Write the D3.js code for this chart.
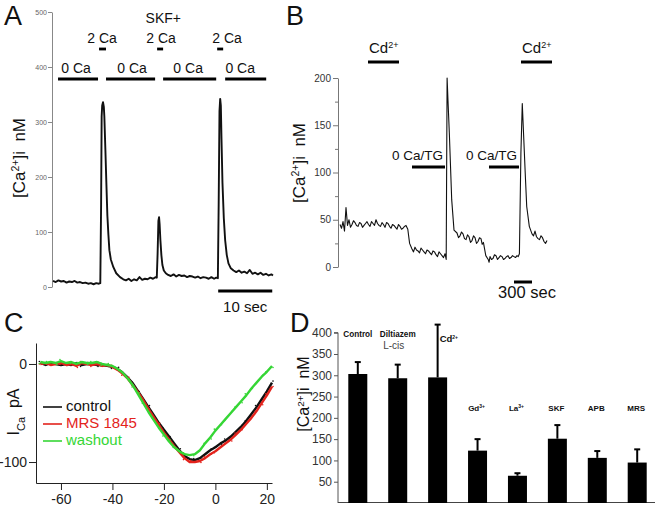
<!DOCTYPE html>
<html><head><meta charset="utf-8">
<script src="https://cdn.jsdelivr.net/npm/d3@7"></script>
<style>body{margin:0;background:#fff} svg{display:block}</style>
</head><body><svg id="c" width="661" height="510"></svg>
<script>
// ---------- DATA ----------
// Panel A: [time s, Ca nM]
const traceA = [[0,11],[0.5,9],[1,12],[1.5,10],[2,11],[2.5,8],[3,10],[3.5,9],[4,11],[4.5,8],[5,9],[5.5,7],[6,8],[6.5,6],[7,7],[7.5,5],[8,7],[8.5,6],
 [8.75,7],[8.9,150],[9.0,310],[9.1,330],[9.25,336],[9.4,328],[9.5,310],[9.69,250],[9.87,190],[10.06,130],[10.25,95],[10.43,67],[10.7,50],[11.17,36],[11.7,25],[12.4,18],[13,14],
 [13.5,12],[14,15],[14.5,11],[15,14],[15.5,12],[16,18],[16.5,13],[17,15],[17.5,14],[18,17],[18.5,15],[19,18],
 [19.2,17],[19.35,60],[19.5,120],[19.62,127],[19.72,115],[19.87,85],[20.05,58],[20.24,40],[20.5,30],[20.87,25],[21.3,22],
 [21.8,20],[22.3,23],[22.8,19],[23.3,22],[23.8,20],[24.3,21],[24.8,18],[25.3,20],[25.8,19],[26.3,17],[26.8,19],[27.3,16],[27.8,18],[28.3,17],[28.8,15],[29.3,18],[29.8,15],[30.2,17],
 [30.5,16],[30.65,150],[30.8,320],[30.93,342],[31.05,330],[31.17,270],[31.35,190],[31.6,125],[31.85,85],[32.15,58],[32.46,43],[32.9,34],[33.4,30],
 [33.9,27],[34.4,30],[34.9,26],[35.4,28],[35.9,25],[36.4,31],[36.9,24],[37.4,26],[37.9,23],[38.4,26],[38.9,22],[39.4,24],[39.9,21],[40.4,23],[40.7,21]];
const aTicks = [0,100,200,300,400,500];
const aZeroCa = [[0.93,8.33],[9.81,18.89],[20.37,30.19],[31.85,39.44]];
const aZeroCaLabelT = [4.26,14.63,25,34.63];
const aTwoCa = [[8.52,9.81],[19.26,20.37],[30.37,31.48]];
const aTwoCaLabelT = [9.07,20,32.2];
const aSkfT = 20.4;
const aScaleBar = [30.56,40.56];

// Panel B: [time s, Ca nM]
const traceB = [[0,45],[25,41],[50,48],[75,38],[100,63],[125,44],[150,50],[175,42],[200,45],[225,49],[250,47],[275,44],[300,43],[325,47],[350,46],[375,42],[400,44],[425,46],[450,48],[475,45],[500,43],[525,48],[550,46],[575,44],[600,50],[625,46],[650,44],[675,43],[700,47],[725,45],[750,42],[775,47],[800,46],[825,43],[850,41],[875,45],[900,44],[925,42],[950,40],[975,45],[1000,43],[1025,40],[1050,41],[1075,43],[1100,44],[1130,40],
 [1160,25],[1200,19],[1225,16],[1250,21],[1275,18],[1300,17],[1325,15],[1350,20],[1375,18],[1400,16],[1425,14],[1450,18],[1475,17],[1500,15],[1525,13],[1550,17],[1575,16],[1600,13],[1625,11],[1650,16],[1675,14],[1700,12],[1725,10],[1750,14],[1770,8],
 [1785,200],[1800,176],[1822,142],[1862,71],[1900,39],[1950,36],[1975,31],[2000,33],[2025,37],[2050,35],[2075,30],[2100,29],[2125,34],[2150,32],[2175,26],[2200,28],[2225,33],[2250,31],[2275,25],[2300,27],[2325,31],[2350,30],[2370,24],[2390,26],
 [2430,12],[2470,8],[2485,5],[2500,11],[2525,8],[2550,9],[2575,13],[2600,12],[2625,8],[2650,10],[2675,12],[2700,11],[2725,8],[2750,9],[2775,11],[2800,12],[2825,9],[2850,10],[2875,12],[2900,11],[2925,10],[2950,12],[2970,11],[2990,14],
 [3015,120],[3038,173],[3060,140],[3090,95],[3112,64],[3155,43],[3200,35],[3225,33],[3250,38],[3275,32],[3300,30],[3325,29],[3350,33],[3375,31],[3400,27],[3425,25],[3450,28]];
const bTicks = [0,25,50,75,100,125,150,175,200];
const bCd = [[467,983],[3017,3533]];
const bZeroTG = [[1200,1750],[2483,2983]];
const bScaleBar = [2900,3200];

// Panel C: I-V curves
const cVolt = [-68,-66,-64,-62,-60,-58,-56,-54,-52,-50,-48,-46,-44,-42,-40,-38,-36,-34,-32,-30,-28,-26,-24,-22,-20,-18,-16,-14,-12,-10,-8,-6,-4,-2,0,2,4,6,8,10,12,14,16,18,20,22];
const cControl = [1,-1,1,0,-1,0,-1,1,-1,0, 0,-1,-1,-2,-3,-5,-9,-14,-20,-28, -36,-44,-52,-60,-67,-74,-81,-88,-94,-97, -98,-96,-92,-88,-85,-81,-78,-74,-69,-64, -58,-51,-44,-36,-28,-19];
const cMRS = [0,1,-1,0,1,-1,0,-2,1,0, -1,0,-2,-1,-3,-6,-10,-15,-22,-29, -37,-46,-54,-62,-70,-77,-84,-90,-96,-100, -100,-99,-96,-92,-89,-85,-81,-77,-72,-67, -61,-55,-48,-40,-32,-23];
const cWash = [2,1,2,1,3,1,2,0,2,1, 1,2,0,-1,-2,-5,-9,-15,-22,-31, -40,-49,-57,-65,-72,-79,-85,-89,-92,-93, -92,-88,-81,-75,-68,-62,-56,-50,-44,-38, -32,-25,-19,-13,-8,-2];
const cNames = ["control","MRS 1845","washout"];
const cXTicks = [-60,-40,-20,0,20];
const cYTicks = [0,-100];

// Panel D: bar chart
const dCats = ["Control","Diltiazem","Cd","Gd","La","SKF","APB","MRS"];
const dSup = ["","","2+","3+","3+","","",""];
const dMeans = [303,293,295,123,64,151,106,95];
const dErr = [28,32,124,27,6,32,16,31];
const dTicks = [50,100,150,200,250,300,350,400];

// ---------- DRAWING ----------
const FONT = "'Liberation Sans', Arial, Helvetica, sans-serif";
const svg = d3.select("#c").attr("font-family", FONT);
svg.append("rect").attr("width",661).attr("height",510).attr("fill","#fff");

function letter(t,x,y){ svg.append("text").attr("x",x).attr("y",y).attr("font-size",27).attr("fill","#111").text(t); }
function caLabel(x,y,size){
  const t = svg.append("text").attr("transform",`translate(${x},${y}) rotate(-90)`).attr("text-anchor","middle").attr("font-size",size).attr("fill","#111");
  t.append("tspan").text("[Ca");
  t.append("tspan").attr("baseline-shift","super").attr("font-size",size*0.62).text("2+");
  t.append("tspan").text("]i\u00a0\u00a0nM");
}
function bar(x1,x2,y,w){ svg.append("line").attr("x1",x1).attr("x2",x2).attr("y1",y).attr("y2",y).attr("stroke","#000").attr("stroke-width",w); }
function label(t,x,y,size,anchor){ return svg.append("text").attr("x",x).attr("y",y).attr("font-size",size).attr("text-anchor",anchor||"middle").attr("fill","#111").text(t); }

// ===== Panel A =====
letter("A",4,25);
const ax = d3.scaleLinear().domain([0,40.7]).range([53,273]);
const ay = d3.scaleLinear().domain([0,500]).range([287,12]);
const gA = svg.append("g").attr("transform","translate(52,0)")
  .call(d3.axisLeft(ay).tickValues(aTicks).tickSize(4).tickSizeOuter(0).tickPadding(1));
gA.attr("font-family",FONT).attr("font-size",7);
gA.selectAll("text").attr("fill","#666");
gA.selectAll("line,path").attr("stroke","#888");
svg.append("path").datum(traceA).attr("fill","none").attr("stroke","#111").attr("stroke-width",1.9).attr("stroke-linejoin","round")
  .attr("d", d3.line().x(d=>ax(d[0])).y(d=>ay(d[1])));
caLabel(25,158,17);
aZeroCa.forEach(d=>bar(ax(d[0]),ax(d[1]),79,2.8));
aZeroCaLabelT.forEach(t=>label("0 Ca",ax(t),73,14));
aTwoCa.forEach(d=>bar(ax(d[0]),ax(d[1]),49,2.8));
aTwoCaLabelT.forEach(t=>label("2 Ca",ax(t),43,14));
label("SKF+",ax(aSkfT),23,14);
bar(ax(aScaleBar[0]),ax(aScaleBar[1]),291,3);
label("10 sec",(ax(aScaleBar[0])+ax(aScaleBar[1]))/2,312,15);

// ===== Panel B =====
letter("B",286,25);
const bx = d3.scaleLinear().domain([0,3450]).range([340,547]);
const by = d3.scaleLinear().domain([0,200]).range([267,78]);
const gB = svg.append("g").attr("transform","translate(338,0)")
  .call(d3.axisLeft(by).tickValues(bTicks).tickSize(5).tickSizeOuter(0).tickPadding(2).tickFormat(d=> d%50===0 ? d : ""));
gB.attr("font-family",FONT).attr("font-size",10);
gB.selectAll("text").attr("fill","#333");
gB.selectAll("line,path").attr("stroke","#777");
gB.selectAll(".tick").filter(d=>d%50!==0).select("line").attr("x2",-3);
svg.append("path").datum(d3.sort(traceB,d=>d[0])).attr("fill","none").attr("stroke","#111").attr("stroke-width",1.1).attr("stroke-linejoin","round")
  .attr("d", d3.line().x(d=>bx(d[0])).y(d=>by(d[1])));
caLabel(305,163,17);
bCd.forEach(d=>{
  bar(bx(d[0]),bx(d[1]),62,3);
  const t = svg.append("text").attr("x",bx(d[0])+1).attr("y",53).attr("font-size",15).attr("fill","#111");
  t.append("tspan").text("Cd");
  t.append("tspan").attr("baseline-shift","super").attr("font-size",9).text("2+");
});
bZeroTG.forEach(d=>{
  bar(bx(d[0]),bx(d[1]),167,3);
  label("0 Ca/TG",bx(d[1])-2,160,13.5,"end");
});
bar(bx(bScaleBar[0]),bx(bScaleBar[1]),282,3);
label("300 sec",(bx(bScaleBar[0])+bx(bScaleBar[1]))/2+4,298,16.5);

// ===== Panel C =====
letter("C",4,332);
const cx = d3.scaleLinear().domain([-69.7,22]).range([36,272]);
const cy = d3.scaleLinear().domain([-121.4,21.4]).range([483,343]);
const gCx = svg.append("g").attr("transform","translate(0,483)")
  .call(d3.axisBottom(cx).tickValues(cXTicks).tickSize(7).tickSizeOuter(0).tickPadding(4).tickFormat(d=>String(d)));
const gCy = svg.append("g").attr("transform","translate(36,0)")
  .call(d3.axisLeft(cy).tickValues(cYTicks).tickSize(7).tickSizeOuter(0).tickPadding(2).tickFormat(d=>String(d)));
[gCx,gCy].forEach(g=>{ g.attr("font-family",FONT).attr("font-size",14); g.selectAll("text").attr("fill","#222"); g.selectAll("line,path").attr("stroke","#222"); });
const cColors = ["#111111","#e3231c","#35d635"];
const cSeries = [cControl,cMRS,cWash];
const cLine = d3.line().x((d,i)=>cx(cVolt[i])).y(d=>cy(d)).curve(d3.curveLinear);
cSeries.forEach((s,k)=>{
  svg.append("path").datum(s).attr("fill","none").attr("stroke",cColors[k]).attr("stroke-width",2.4).attr("stroke-linejoin","round").attr("d",cLine);
  svg.append("g").selectAll("circle").data(s).join("circle")
    .attr("cx",(d,i)=>cx(cVolt[i])+ (i%2?1:-1)).attr("cy",(d,i)=>cy(d)+((i+k)%3-1)*1.5).attr("r",0.8).attr("fill",cColors[k]);
});
{ const ic = svg.append("text").attr("transform","translate(19,412) rotate(-90)").attr("text-anchor","middle").attr("font-size",16).attr("fill","#111");
  ic.append("tspan").text("I");
  ic.append("tspan").attr("baseline-shift","sub").attr("font-size",11).text("Ca");
  ic.append("tspan").text("\u00a0\u00a0pA"); }
cNames.forEach((n,k)=>{
  const yb = 411 + k*17;
  svg.append("line").attr("x1",43).attr("x2",62).attr("y1",yb-4).attr("y2",yb-4).attr("stroke",cColors[k]).attr("stroke-width",1.6);
  svg.append("text").attr("x",66).attr("y",yb).attr("font-size",15).attr("fill",cColors[k]).text(n);
});

// ===== Panel D =====
letter("D",290,332);
const dx = d3.scaleBand().domain(dCats).range([337,658]).paddingInner(0.524).paddingOuter(0.283);
const dy = d3.scaleLinear().domain([0,400]).range([503,332.7]);
const gD = svg.append("g").attr("transform","translate(338,0)")
  .call(d3.axisLeft(dy).tickValues(dTicks).tickSize(4).tickSizeOuter(0).tickPadding(2));
gD.attr("font-family",FONT).attr("font-size",12);
gD.selectAll("text").attr("fill","#333");
gD.selectAll("line,path").attr("stroke","#555");
gD.select("path").attr("d","M-4,332.7H0V503");
svg.append("line").attr("x1",338).attr("x2",655).attr("y1",502.5).attr("y2",502.5).attr("stroke","#444").attr("stroke-width",1);
caLabel(309,394,16);
svg.append("g").selectAll("rect").data(dMeans).join("rect")
  .attr("x",(d,i)=>dx(dCats[i])).attr("width",dx.bandwidth())
  .attr("y",d=>dy(d)).attr("height",d=>dy(0)-dy(d)).attr("fill","#000");
dMeans.forEach((m,i)=>{
  const c = dx(dCats[i]) + dx.bandwidth()/2;
  svg.append("line").attr("x1",c).attr("x2",c).attr("y1",dy(m)).attr("y2",dy(m+dErr[i])).attr("stroke","#000").attr("stroke-width",2);
  svg.append("line").attr("x1",c-3).attr("x2",c+3).attr("y1",dy(m+dErr[i])).attr("y2",dy(m+dErr[i])).attr("stroke","#000").attr("stroke-width",2);
  let t;
  if(i<2){ t = label("",c,337,8.2,"middle"); }
  else if(i===2){ t = label("",c+2,342,9.5,"start"); }
  else { t = label("",c-1,411,8,"middle"); }
  t.attr("font-weight","bold");
  t.append("tspan").text(dCats[i]);
  if(dSup[i]) t.append("tspan").attr("baseline-shift","super").attr("font-size",5).text(dSup[i]);
  if(i===1) label("L-cis",c-4,349,10,"middle").attr("fill","#444");
});
</script></body></html>
